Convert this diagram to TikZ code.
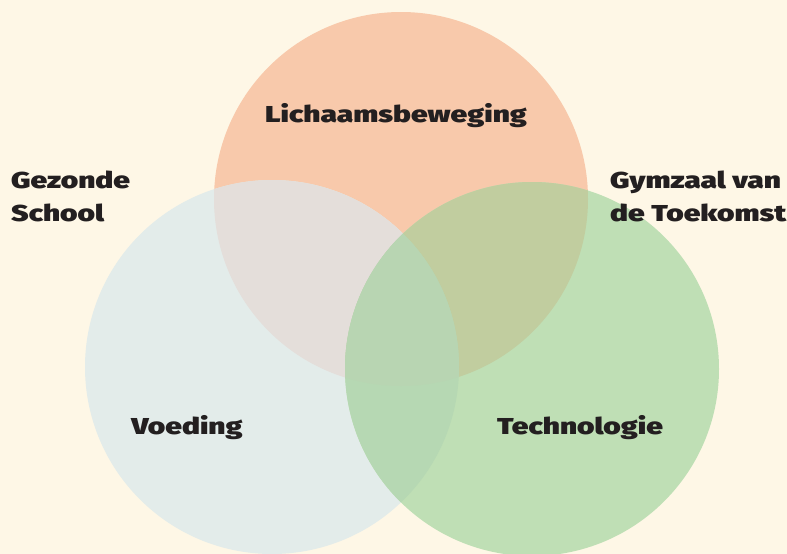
\documentclass[tikz,border=0pt]{standalone}
\usepackage{fontspec}
\setmainfont{Fira Sans}[BoldFont={Fira Sans Black},BoldFeatures={FakeStretch=1.3}]
\definecolor{bg}{HTML}{FEF7E6}
\definecolor{co}{HTML}{F8C9AB}
\definecolor{cb}{HTML}{E3ECEA}
\definecolor{cg}{HTML}{BFDFB5}
\definecolor{cob}{HTML}{E4DEDA}
\definecolor{cog}{HTML}{C1CD9F}
\definecolor{cbg}{HTML}{B6D8B3}
\definecolor{cobg}{HTML}{B8D5B2}
\definecolor{txt}{HTML}{231F20}
\tikzset{lab/.style={text=txt,font=\bfseries\fontsize{23}{33}\selectfont,inner sep=0pt}}
\begin{document}
\begin{tikzpicture}[x=1pt,y=-1pt]
\fill[bg] (0,0) rectangle (787,554);
\useasboundingbox (0,0) rectangle (787,554);
\def\O{(401,199) circle (187)}
\def\B{(272,367) circle (187)}
\def\G{(532,369) circle (187)}
\fill[co] \O;
\fill[cb] \B;
\fill[cg] \G;
\begin{scope}\clip \O; \fill[cob] \B; \end{scope}
\begin{scope}\clip \O; \fill[cog] \G; \end{scope}
\begin{scope}\clip \B; \fill[cbg] \G; \end{scope}
\begin{scope}\clip \O; \clip \B; \fill[cobg] \G; \end{scope}
\node[lab,anchor=base] (l) at (396,122) {Lichaamsbeweging};
\node[lab,anchor=base west,align=left] (gs) at (11,221) {Gezonde\\School};
\node[lab,anchor=base west,align=left] (gt) at (610,221) {Gymzaal van\\de Toekomst};
\node[lab,anchor=base] (v) at (187,434) {Voeding};
\node[lab,anchor=base] (t) at (580,434) {Technologie};
\end{tikzpicture}
\end{document}
